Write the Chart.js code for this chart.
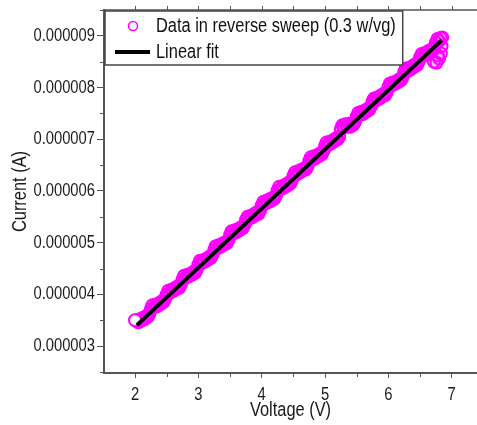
<!DOCTYPE html>
<html>
<head>
<meta charset="utf-8">
<script src="https://cdn.jsdelivr.net/npm/chart.js@4.4.1/dist/chart.umd.min.js"></script>
<style>
  html, body { margin: 0; padding: 0; background: #fff; }
</style>
</head>
<body>
<canvas id="ivChart" width="477" height="425"></canvas>
<script>
// === Data ===
// reverse sweep, pass 1
const voltage = [
        2.05, 2.10, 2.15, 2.20, 2.25, 2.30, 2.35, 2.40, 2.45,
  2.50, 2.55, 2.60, 2.65, 2.70, 2.75, 2.80, 2.85, 2.90, 2.95,
  3.00, 3.05, 3.10, 3.15, 3.20, 3.25, 3.30, 3.35, 3.40, 3.45,
  3.50, 3.55, 3.60, 3.65, 3.70, 3.75, 3.80, 3.85, 3.90, 3.95,
  4.00, 4.05, 4.10, 4.15, 4.20, 4.25, 4.30, 4.35, 4.40, 4.45,
  4.50, 4.55, 4.60, 4.65, 4.70, 4.75, 4.80, 4.85, 4.90, 4.95,
  5.00, 5.05, 5.10, 5.15, 5.20, 5.25, 5.30, 5.35, 5.40, 5.45,
  5.50, 5.55, 5.60, 5.65, 5.70, 5.75, 5.80, 5.85, 5.90, 5.95,
  6.00, 6.05, 6.10, 6.15, 6.20, 6.25, 6.30, 6.35, 6.40, 6.45,
  6.50, 6.55, 6.60, 6.65, 6.70, 6.75, 6.80, 6.85,
  6.72, 6.76, 6.80, 6.83, 6.78, 6.84
];
// current in microampere
const currentMicroA = [
        3.46, 3.49, 3.52, 3.56, 3.72, 3.75, 3.77, 3.81, 3.85,
  4.00, 4.03, 4.06, 4.10, 4.13, 4.29, 4.32, 4.35, 4.38, 4.42,
  4.58, 4.60, 4.63, 4.67, 4.71, 4.86, 4.89, 4.92, 4.96, 4.99,
  5.15, 5.18, 5.20, 5.24, 5.28, 5.44, 5.46, 5.49, 5.53, 5.56,
  5.72, 5.75, 5.78, 5.81, 5.85, 6.01, 6.04, 6.06, 6.10, 6.14,
  6.29, 6.32, 6.35, 6.39, 6.42, 6.58, 6.61, 6.63, 6.67, 6.71,
  6.87, 6.89, 6.92, 6.96, 7.00, 7.20, 7.23, 7.24, 7.24, 7.28,
  7.44, 7.47, 7.49, 7.53, 7.57, 7.73, 7.75, 7.78, 7.82, 7.85,
  8.01, 8.04, 8.07, 8.10, 8.14, 8.30, 8.32, 8.35, 8.39, 8.43,
  8.58, 8.61, 8.64, 8.68, 8.71, 8.87, 8.90, 8.97,
  8.50, 8.48, 8.56, 8.66, 8.62, 8.80
];
// reverse sweep, pass 2
const voltage2 = [
  2.025, 2.075, 2.125, 2.175, 2.225, 2.275, 2.325, 2.375, 2.425, 2.475,
  2.525, 2.575, 2.625, 2.675, 2.725, 2.775, 2.825, 2.875, 2.925, 2.975,
  3.025, 3.075, 3.125, 3.175, 3.225, 3.275, 3.325, 3.375, 3.425, 3.475,
  3.525, 3.575, 3.625, 3.675, 3.725, 3.775, 3.825, 3.875, 3.925, 3.975,
  4.025, 4.075, 4.125, 4.175, 4.225, 4.275, 4.325, 4.375, 4.425, 4.475,
  4.525, 4.575, 4.625, 4.675, 4.725, 4.775, 4.825, 4.875, 4.925, 4.975,
  5.025, 5.075, 5.125, 5.175, 5.225, 5.275, 5.325, 5.375, 5.425, 5.475,
  5.525, 5.575, 5.625, 5.675, 5.725, 5.775, 5.825, 5.875, 5.925, 5.975,
  6.025, 6.075, 6.125, 6.175, 6.225, 6.275, 6.325, 6.375, 6.425, 6.475,
  6.525, 6.575, 6.625, 6.675, 6.725, 6.775, 6.825
];
const current2MicroA = [
  3.50, 3.52, 3.55, 3.58, 3.62, 3.79, 3.80, 3.83, 3.87, 3.91,
  4.07, 4.09, 4.12, 4.16, 4.19, 4.36, 4.38, 4.40, 4.44, 4.48,
  4.65, 4.66, 4.69, 4.73, 4.77, 4.93, 4.95, 4.98, 5.01, 5.05,
  5.22, 5.24, 5.26, 5.30, 5.34, 5.50, 5.52, 5.55, 5.59, 5.62,
  5.79, 5.81, 5.84, 5.87, 5.91, 6.08, 6.09, 6.12, 6.16, 6.20,
  6.36, 6.38, 6.41, 6.44, 6.48, 6.65, 6.67, 6.69, 6.73, 6.77,
  6.94, 6.95, 6.98, 7.02, 7.05, 7.27, 7.29, 7.30, 7.30, 7.34,
  7.51, 7.53, 7.55, 7.59, 7.63, 7.79, 7.81, 7.84, 7.88, 7.91,
  8.08, 8.10, 8.12, 8.16, 8.20, 8.37, 8.38, 8.41, 8.45, 8.49,
  8.65, 8.67, 8.70, 8.73, 8.77, 8.94, 8.96
];
// last recorded point (drawn on top, open marker)
const lastVoltage = [2.00];
const lastCurrentMicroA = [3.50];

const fitVoltage = [2.03, 6.845];
const fitCurrentMicroA = [3.406, 8.917];

const xTicks = [2, 3, 4, 5, 6, 7];
const yTicks = [3e-6, 4e-6, 5e-6, 6e-6, 7e-6, 8e-6, 9e-6];

const FONT = "'Liberation Sans', Arial, sans-serif";
const NARROW = 0.82;   // the original uses a narrow sans face
const AXIS_COLOR = '#555';

const toPts = (vs, is) => vs.map((v, i) => ({ x: v, y: is[i] * 1e-6 }));
const points = [
  ...toPts(voltage, currentMicroA),
  ...toPts(voltage2, current2MicroA),
  ...toPts(lastVoltage, lastCurrentMicroA)
];
const fitPoints = toPts(fitVoltage, fitCurrentMicroA);

// squeeze text horizontally to mimic the narrow font
const narrowText = {
  id: 'narrowText',
  beforeInit(chart) {
    const ctx = chart.ctx;
    const orig = ctx.fillText;
    ctx.fillText = function (t, x, y, maxW) {
      this.save();
      this.translate(x, y);
      this.scale(NARROW, 1);
      if (maxW === undefined) orig.call(this, t, 0, 0);
      else orig.call(this, t, 0, 0, maxW / NARROW);
      this.restore();
    };
  }
};

// top axis line, minor ticks
const axisFrame = {
  id: 'axisFrame',
  afterDraw(chart) {
    const { ctx, chartArea: a, scales: { x, y } } = chart;
    ctx.save();
    ctx.strokeStyle = AXIS_COLOR;
    ctx.lineWidth = 1.5;
    ctx.beginPath();
    ctx.moveTo(a.left, a.top);
    ctx.lineTo(a.right, a.top);
    ctx.stroke();

    ctx.lineWidth = 1;
    ctx.beginPath();
    for (let v = 1.5; v <= 7.5; v += 0.5) {
      const px = Math.round(x.getPixelForValue(v)) + 0.5;
      if (px < a.left || px > a.right) continue;
      if (!Number.isInteger(v)) {
        ctx.moveTo(px, a.bottom);
        ctx.lineTo(px, a.bottom + 4);
      }
      ctx.moveTo(px, a.top);
      ctx.lineTo(px, a.top - 4);
    }
    for (let k = 5; k <= 19; k += 2) {
      const py = Math.round(y.getPixelForValue(k * 0.5e-6)) + 0.5;
      if (py < a.top || py > a.bottom) continue;
      ctx.moveTo(a.left, py);
      ctx.lineTo(a.left - 4, py);
    }
    ctx.stroke();
    ctx.restore();
  }
};

// legend box inside the plot, top-left
const insetLegend = {
  id: 'insetLegend',
  afterDraw(chart) {
    const { ctx, chartArea: a } = chart;
    const sets = chart.data.datasets;
    ctx.save();
    ctx.font = '20px ' + FONT;
    const left = a.left + 1, top = a.top + 1;
    const textX = left + 51;
    const w = Math.max(...sets.map(d => ctx.measureText(d.label).width)) * NARROW;
    const boxW = textX - left + w + 7;
    const boxH = 54;
    ctx.fillStyle = '#fff';
    ctx.fillRect(left, top, boxW, boxH);
    ctx.strokeStyle = '#444';
    ctx.lineWidth = 1.5;
    ctx.strokeRect(left, top, boxW, boxH);

    sets.forEach((d, i) => {
      const cy = top + 15 + i * 26;
      ctx.strokeStyle = d.borderColor;
      ctx.beginPath();
      if (d.showLine) {
        ctx.lineWidth = d.borderWidth;
        ctx.moveTo(left + 10, cy);
        ctx.lineTo(left + 45, cy);
      } else {
        ctx.lineWidth = 1.5;
        ctx.arc(left + 28, cy, 4.5, 0, Math.PI * 2);
      }
      ctx.stroke();
      ctx.fillStyle = '#111';
      ctx.textBaseline = 'middle';
      ctx.fillText(d.label, textX, cy);
    });
    ctx.restore();
  }
};

new Chart(document.getElementById('ivChart'), {
  type: 'scatter',
  data: {
    datasets: [
      {
        label: 'Data in reverse sweep (0.3 w/vg)',
        data: points,
        borderColor: '#ff00ff',
        backgroundColor: c => c.dataIndex === points.length - 1 ? '#fff' : 'rgba(255,0,255,0.12)',
        borderWidth: 2,
        pointRadius: 6,
        order: 1
      },
      {
        label: 'Linear fit',
        data: fitPoints,
        showLine: true,
        borderColor: '#000',
        borderWidth: 4,
        pointRadius: 0,
        order: 0
      }
    ]
  },
  options: {
    responsive: false,
    animation: false,
    layout: { autoPadding: false, padding: { top: 10, right: 0, bottom: 0, left: 0 } },
    plugins: {
      legend: { display: false },
      tooltip: { enabled: false }
    },
    scales: {
      x: {
        type: 'linear',
        min: 1.51,
        max: 7.4,
        afterBuildTicks: s => { s.ticks = xTicks.map(v => ({ value: v })); },
        afterFit: s => { s.height = 52; s.paddingLeft = 0; s.paddingRight = 0; },
        border: { display: true, color: AXIS_COLOR, width: 2 },
        grid: { drawOnChartArea: false, tickLength: 5, tickColor: AXIS_COLOR, tickWidth: 1 },
        ticks: {
          color: '#1a1a1a',
          padding: 6,
          font: { family: FONT, size: 18 },
          maxRotation: 0
        },
        title: {
          display: true,
          text: 'Voltage (V)',
          color: '#1a1a1a',
          font: { family: FONT, size: 20 },
          padding: { top: 0, bottom: 3 }
        }
      },
      y: {
        type: 'linear',
        min: 2.48e-6,
        max: 9.5e-6,
        afterBuildTicks: s => { s.ticks = yTicks.map(v => ({ value: v })); },
        afterFit: s => { s.width = 104; s.paddingTop = 0; s.paddingBottom = 0; },
        border: { display: true, color: AXIS_COLOR, width: 2 },
        grid: { drawOnChartArea: false, tickLength: 7, tickColor: AXIS_COLOR, tickWidth: 1 },
        ticks: {
          color: '#1a1a1a',
          padding: 2,
          font: { family: FONT, size: 18 },
          callback: v => v.toFixed(6)
        },
        title: {
          display: true,
          text: 'Current (A)',
          color: '#1a1a1a',
          font: { family: FONT, size: 20 },
          padding: { top: 8, bottom: 0 }
        }
      }
    }
  },
  plugins: [narrowText, axisFrame, insetLegend]
});
</script>
</body>
</html>
